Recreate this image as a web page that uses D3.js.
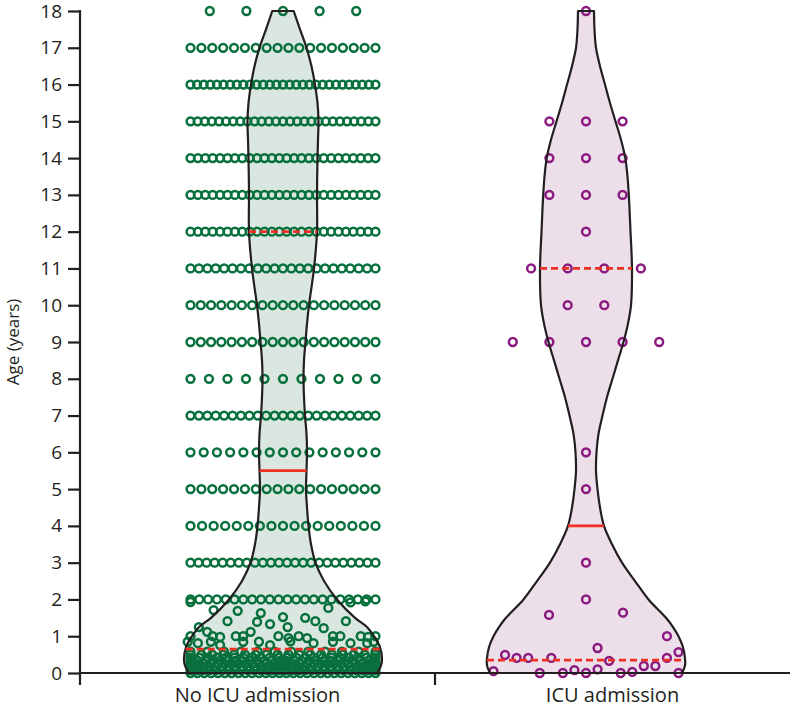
<!DOCTYPE html>
<html>
<head>
<meta charset="utf-8">
<script src="https://cdn.jsdelivr.net/npm/d3@7"></script>
<style>
  html, body { margin: 0; padding: 0; background: #ffffff; }
  svg { display: block; }
  text { font-family: "Open Sans", "Noto Sans", sans-serif; fill: #231f20; }
</style>
</head>
<body>
<svg id="chart" width="790" height="708"></svg>
<script>
// ---------------- DATA ----------------
const categories = ["No ICU admission", "ICU admission"];
const yTicks = [0,1,2,3,4,5,6,7,8,9,10,11,12,13,14,15,16,17,18];
const yTitle = "Age (years)";

// No ICU admission: whole-year rows (age, number of children)
const noIcuRowAges   = [2, 3, 4, 5, 6, 7, 8, 9, 10, 11, 12, 13, 14, 15, 16, 17, 18];
const noIcuRowCounts = [22, 24, 17, 18, 15, 23, 11, 19, 19, 23, 26, 26, 26, 27, 29, 18, 5];
// No ICU admission: infants (dense mass under 0.6 years)
const noIcuInfantAges   = [0.58, 0.5, 0.42, 0.33, 0.25, 0.17, 0.08, 0.0];
const noIcuInfantCounts = [12, 18, 22, 26, 28, 30, 30, 28];
// No ICU admission: scattered young children (age, horizontal jitter -1..1)
const noIcuScatterAges = [1.93, 1.92, 1.95, 1.71, 1.69, 1.63, 1.77, 1.52, 1.50, 1.41, 1.39, 1.33, 1.41, 1.41,
  1.25, 1.22, 1.25, 1.12, 1.0, 1.0, 0.98, 1.0, 1.0, 1.12, 1.0, 0.95, 1.0, 0.95, 1.0, 1.0, 1.0, 0.98, 1.0,
  0.81, 0.85, 0.76, 0.85, 0.85, 0.76, 0.86, 0.81, 0.85, 0.81, 0.81, 0.85, 0.85];
const noIcuScatterJitter = [-1.0, 0.73, 0.89, -0.75, -0.49, -0.24, 0.49, 0.0, 0.24, -0.6, -0.28, -0.14, 0.35, 0.68,
  0.05, 0.44, -0.91, -0.82, -1.0, -0.76, -0.68, -0.51, -0.43, -0.35, -0.05, 0.06, 0.17, 0.26, 0.54, 0.62, 0.84, 0.92, 1.0,
  -0.92, -0.78, -0.68, -0.43, -0.26, -0.14, 0.08, 0.33, 0.54, 0.73, 0.91, -1.03, 0.98];

// ICU admission: whole-year rows
const icuRowAges   = [2, 3, 5, 6, 9, 10, 11, 12, 13, 14, 15, 18];
const icuRowCounts = [1, 1, 1, 1, 5, 2, 4, 1, 3, 3, 3, 1];
// ICU admission: young children (age, jitter -1..1)
const icuScatterAges   = [0.05, 0.0, 0.0, 0.08, 0.0, 0.1, 0.0, 0.03, 0.19, 0.19, 0.0, 1.0, 0.57, 0.41,
  0.49, 0.41, 0.41, 0.41, 0.68, 0.33, 1.58, 1.64];
const icuScatterJitter = [-1.0, -0.5, -0.25, -0.125, 0.0, 0.125, 0.375, 0.5, 0.625, 0.75, 1.0, 0.875, 1.0, 0.875,
  -0.875, -0.75, -0.625, -0.375, 0.125, 0.25, -0.4, 0.4];

// Violin outlines (relative density)
const violinAges   = [0, 0.2, 0.4, 0.7, 1, 1.25, 1.5, 2, 2.5, 3, 3.5, 4, 4.5, 5, 5.5, 6, 6.5, 7, 7.5, 8, 8.5,
  9, 9.5, 10, 11, 12, 13, 13.5, 14, 14.5, 15, 15.5, 16, 16.5, 17, 17.5, 18];
const noIcuDensity = [0.94, 0.98, 0.99, 0.97, 0.91, 0.84, 0.72, 0.54, 0.41, 0.325, 0.28, 0.255, 0.24, 0.23, 0.235,
  0.24, 0.235, 0.22, 0.21, 0.205, 0.21, 0.225, 0.24, 0.26, 0.31, 0.34, 0.34, 0.342, 0.345, 0.35, 0.355, 0.345, 0.32,
  0.285, 0.235, 0.17, 0.107];
const icuDensity = [0.96, 0.99, 0.99, 0.97, 0.925, 0.87, 0.80, 0.625, 0.49, 0.36, 0.26, 0.18, 0.14, 0.115, 0.10,
  0.105, 0.125, 0.165, 0.21, 0.265, 0.32, 0.375, 0.42, 0.45, 0.46, 0.445, 0.428, 0.415, 0.393, 0.35, 0.295, 0.24, 0.19,
  0.14, 0.10, 0.085, 0.08];

// Quartiles [Q1, median, Q3]
const noIcuQuartiles = [0.65, 5.5, 12];
const icuQuartiles   = [0.35, 4, 11];

// ---------------- STYLE / LAYOUT ----------------
const pointColors  = ["#08703c", "#8b1a80"];
const violinFills  = ["#d9e7e0", "#ecdfea"];
const outlineColor = "#231f20";
const quartColor   = "#ee3124";

const svg = d3.select("#chart");
const axisX = 80, axisRight = 790, axisBottomY = 673, axisTopY = 11;

const y = d3.scaleLinear().domain([0, 18]).range([axisBottomY, axisTopY]);
// category bands along the x axis (labels and divider tick)
const xAxisBand = d3.scaleBand().domain(categories).range([axisX, axisRight]).padding(0);
// positions of the violins / point clouds
const x = d3.scaleBand().domain(categories).range([131.5, 737.5]).padding(0);
const cx = c => x(c) + x.bandwidth() / 2;
const w = d3.scaleLinear().domain([0, 1]).range([0, 100]);   // density -> half width px
const spreadHalf = 92.5;       // half-width of point spread (px)
const maxStep = 36.6;          // maximum spacing between points in a row

const groups = [
  { cat: categories[0], rowAges: noIcuRowAges, rowCounts: noIcuRowCounts,
    infAges: noIcuInfantAges, infCounts: noIcuInfantCounts,
    scAges: noIcuScatterAges, scJit: noIcuScatterJitter,
    dens: noIcuDensity, q: noIcuQuartiles },
  { cat: categories[1], rowAges: icuRowAges, rowCounts: icuRowCounts,
    infAges: [], infCounts: [],
    scAges: icuScatterAges, scJit: icuScatterJitter,
    dens: icuDensity, q: icuQuartiles }
];

groups.forEach((g, gi) => {
  const c = cx(g.cat);
  const profile = violinAges.map((a, i) => ({ age: a, d: g.dens[i] }));
  const area = d3.area()
    .y(d => y(d.age))
    .x0(d => c - w(d.d))
    .x1(d => c + w(d.d))
    .curve(d3.curveCatmullRom.alpha(0.5));

  // violin fill
  svg.append("path").datum(profile).attr("d", area)
    .attr("fill", violinFills[gi]).attr("stroke", "none");

  // points
  const pts = [];
  const addRow = (age, n) => {
    const step = n > 1 ? Math.min(maxStep, 2 * spreadHalf / (n - 1)) : 0;
    for (let i = 0; i < n; i++) pts.push({ age, off: (i - (n - 1) / 2) * step });
  };
  g.rowAges.forEach((a, i) => addRow(a, g.rowCounts[i]));
  g.infAges.forEach((a, i) => addRow(a, g.infCounts[i]));
  g.scAges.forEach((a, i) => pts.push({ age: a, off: g.scJit[i] * spreadHalf }));

  svg.append("g").selectAll("circle").data(pts).join("circle")
    .attr("cx", d => c + d.off)
    .attr("cy", d => y(d.age))
    .attr("r", 3.9)
    .attr("fill", "none")
    .attr("stroke", pointColors[gi])
    .attr("stroke-width", 2.5);

  // violin outline
  svg.append("path").datum(profile).attr("d", area)
    .attr("fill", "none").attr("stroke", outlineColor).attr("stroke-width", 2.2)
    .attr("stroke-linejoin", "round");

  // quartile lines
  const dAt = d3.scaleLinear().domain(violinAges).range(g.dens);
  g.q.forEach((qa, qi) => {
    const hw = w(dAt(qa));
    svg.append("line")
      .attr("x1", c - hw).attr("x2", c + hw)
      .attr("y1", y(qa)).attr("y2", y(qa))
      .attr("stroke", quartColor).attr("stroke-width", 2.8)
      .attr("stroke-dasharray", qi === 1 ? null : "7,4");
  });
});

// ---------------- AXES ----------------
const yAxis = d3.axisLeft(y).tickValues(yTicks).tickSize(12).tickPadding(6).tickSizeOuter(0);
const gy = svg.append("g").attr("transform", `translate(${axisX},0)`).call(yAxis);
gy.select(".domain").remove();
gy.selectAll(".tick line").attr("stroke", outlineColor).attr("stroke-width", 2.2);
gy.selectAll(".tick text").style("font-size", "19px").attr("fill", outlineColor)
  .style("font-family", "'Open Sans', 'Noto Sans', sans-serif");

svg.append("line").attr("x1", axisX).attr("x2", axisX)
  .attr("y1", axisTopY - 1).attr("y2", axisBottomY + 12)
  .attr("stroke", outlineColor).attr("stroke-width", 2.2);
svg.append("line").attr("x1", axisX).attr("x2", axisRight)
  .attr("y1", axisBottomY).attr("y2", axisBottomY)
  .attr("stroke", outlineColor).attr("stroke-width", 2.2);
// divider tick between categories
svg.append("line").attr("x1", xAxisBand(categories[1])).attr("x2", xAxisBand(categories[1]))
  .attr("y1", axisBottomY).attr("y2", axisBottomY + 12)
  .attr("stroke", outlineColor).attr("stroke-width", 2.2);

// category labels
const xAxis = d3.axisBottom(xAxisBand).tickSize(0).tickPadding(15);
const gx = svg.append("g").attr("transform", `translate(0,${axisBottomY})`).call(xAxis);
gx.select(".domain").remove();
gx.selectAll(".tick text").style("font-size", "20px").attr("fill", outlineColor)
  .style("font-family", "'Open Sans', 'Noto Sans', sans-serif");

// y title
svg.append("text")
  .attr("transform", `translate(19,342) rotate(-90)`)
  .attr("text-anchor", "middle")
  .style("font-size", "17px")
  .text(yTitle);
</script>
</body>
</html>
